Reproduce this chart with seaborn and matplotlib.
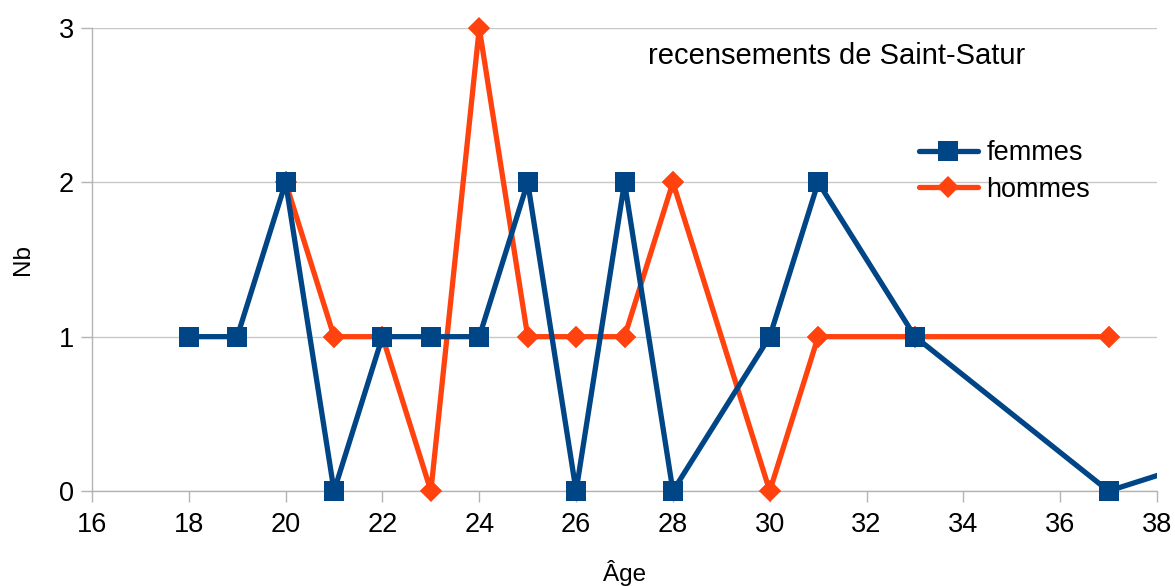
import pandas as pd
import matplotlib.pyplot as plt
import seaborn as sns

# données des recensements
age_femmes = [18, 19, 20, 21, 22, 23, 24, 25, 26, 27, 28, 30, 31, 33, 37, 47]
nb_femmes = [1, 1, 2, 0, 1, 1, 1, 2, 0, 2, 0, 1, 2, 1, 0, 1]

age_hommes = [20, 21, 22, 23, 24, 25, 26, 27, 28, 30, 31, 33, 37]
nb_hommes = [2, 1, 1, 0, 3, 1, 1, 1, 2, 0, 1, 1, 1]

femmes = pd.DataFrame({"age": age_femmes, "nb": nb_femmes})
hommes = pd.DataFrame({"age": age_hommes, "nb": nb_hommes})

sns.set_style("white")
plt.rcParams['font.family'] = ['Liberation Sans', 'DejaVu Sans']
plt.rcParams['text.color'] = 'black'
plt.rcParams['axes.labelcolor'] = 'black'

fig = plt.figure(figsize=(11.75, 5.86), dpi=100)
ax = fig.add_axes([0.0783, 0.1621, 0.9064, 0.7901])

bleu = "#004586"
orange = "#ff420e"

# lignes (coupées au bord du cadre)
sns.lineplot(data=hommes, x="age", y="nb", color=orange, linewidth=3.8,
             marker="D", markersize=11, markeredgewidth=0, label="hommes", ax=ax, zorder=3)
sns.lineplot(data=femmes, x="age", y="nb", color=bleu, linewidth=3.8,
             marker="s", markersize=14, markeredgewidth=0, label="femmes", ax=ax, zorder=5)
# marqueurs non coupés sur les bords
sns.lineplot(data=hommes, x="age", y="nb", color=orange, linestyle="",
             marker="D", markersize=11, markeredgewidth=0, legend=False, ax=ax,
             zorder=4, clip_on=False)
sns.lineplot(data=femmes, x="age", y="nb", color=bleu, linestyle="",
             marker="s", markersize=14, markeredgewidth=0, legend=False, ax=ax,
             zorder=6, clip_on=False)

ax.set_xlim(16, 38)
ax.set_ylim(0, 3)
ax.set_xticks(range(16, 39, 2))
ax.set_yticks([0, 1, 2, 3])
ax.yaxis.grid(True, color="#c8c8c8", linewidth=1)
ax.xaxis.grid(False)
for s in ["top", "right"]:
    ax.spines[s].set_visible(False)
for s in ["left", "bottom"]:
    ax.spines[s].set_color("#b3b3b3")
    ax.spines[s].set_linewidth(1)
ax.tick_params(axis="both", colors="#b3b3b3", labelcolor="black", labelsize=19.5,
               length=8, width=1, direction="out", bottom=True, left=True, pad=5)
ax.tick_params(axis="x", pad=7)

ax.set_xlabel("Âge", fontsize=17.5, labelpad=16)
ax.set_ylabel("Nb", fontsize=17.5, labelpad=18)

ax.text(0.699, 0.94, "recensements de Saint-Satur", transform=ax.transAxes,
        fontsize=21, ha="center", va="center", color="black")

h, l = ax.get_legend_handles_labels()
ax.legend(h[::-1], l[::-1], loc="center left", bbox_to_anchor=(0.766, 0.69),
          frameon=False, fontsize=19.5, handlelength=2.2, labelspacing=0.38,
          handletextpad=0.3, borderaxespad=0)

fig.savefig("out.png", dpi=100)
